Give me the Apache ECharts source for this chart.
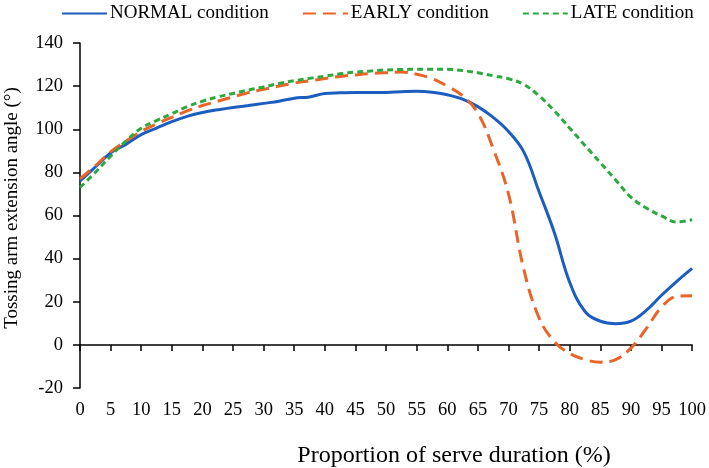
<!DOCTYPE html>
<html>
<head>
<meta charset="utf-8">
<title>Tossing arm extension angle</title>
<script src="https://cdn.jsdelivr.net/npm/echarts@6/dist/echarts.min.js"></script>
<style>
  html, body { margin: 0; padding: 0; background: #fff; }
  #chart { width: 709px; height: 468px; }
</style>
</head>
<body>
<div id="chart"></div>
<script>
// 横轴：发球时长比例 (%)
const progress = [0, 2.5, 5, 7.5, 10, 12.5, 15, 17.5, 20, 22.5, 25, 27.5, 30, 32.5, 35, 37.5, 40,
  42.5, 45, 47.5, 50, 52.5, 55, 57.5, 60, 62.5, 65, 67.5, 70, 72.5, 75, 77.5, 80, 82.5, 85,
  87.5, 90, 92.5, 95, 97.5, 100];

const normalAngle = [76, 82.5, 89, 93, 97.5, 100.5, 103.5, 106, 107.8, 109, 110.1, 111, 112, 113,
  114.4, 115, 116.6, 116.9, 117.1, 117.1, 117.1, 117.4, 117.6, 117.2, 116, 114, 110.5, 105.5,
  99, 89.5, 71, 52, 29, 15.5, 11, 9.8, 11, 16, 23, 29.5, 35.5];

const earlyAngle = [77, 83, 89.5, 94.5, 99, 102.5, 105.5, 108.5, 111, 113, 115, 117, 118.5, 120,
  121.4, 122.5, 123.5, 124.5, 125.2, 125.8, 126.2, 126.5, 125.5, 123.5, 120, 115.5, 107.5, 91,
  70, 35, 12.5, 1.5, -4, -6.8, -8, -6.8, -1.5, 7.5, 17.5, 22.5, 22.8];

const lateAngle = [73, 80, 87.5, 94.5, 100.5, 104, 107.2, 110.5, 113, 115, 116.6, 118.2, 119.6,
  121.2, 122.5, 123.6, 124.6, 125.7, 126.5, 127, 127.5, 127.7, 127.8, 127.8, 127.8, 127.2, 126.2,
  124.8, 123.4, 120.8, 115.5, 108.5, 100.5, 92.5, 84.5, 76.5, 68.5, 63.5, 59.8, 57, 58];

const seriesNames = ['NORMAL condition', 'EARLY condition', 'LATE condition'];

const FONT = 'Liberation Serif';

function pairs(values) {
  return values.map((v, i) => [progress[i], v]);
}

const chart = echarts.init(document.getElementById('chart'), null, { renderer: 'canvas' });

const option = {
  backgroundColor: '#fff',
  animation: false,
  textStyle: { fontFamily: FONT, color: '#000' },
  legend: {
    data: seriesNames,
    left: 56,
    top: -1,
    itemWidth: 45,
    itemHeight: 14,
    itemGap: 33,
    itemStyle: { opacity: 0 }, // 图例只画线，不画圆点
    textStyle: { fontFamily: FONT, fontSize: 19, color: '#000', padding: [0, 0, 0, -2] }
  },
  grid: { left: 80, right: 16, top: 43, bottom: 80 },
  xAxis: [
    {
      // 只显示底部刻度文字
      type: 'value', min: 0, max: 100, interval: 5, position: 'bottom',
      axisLine: { show: false, onZero: false },
      axisTick: { show: false },
      splitLine: { show: false },
      axisLabel: { fontFamily: FONT, fontSize: 18.5, color: '#000', margin: 13 }
    },
    {
      // 0 位置的轴线和刻度
      type: 'value', min: 0, max: 100, interval: 5, position: 'bottom',
      axisLine: { show: true, onZero: true, lineStyle: { color: '#000', width: 1.5 } },
      axisTick: { show: true, length: 6, lineStyle: { color: '#000', width: 1.5 } },
      splitLine: { show: false },
      axisLabel: { show: false }
    }
  ],
  yAxis: {
    type: 'value', min: -20, max: 140, interval: 20,
    axisLine: { show: true, lineStyle: { color: '#000', width: 1.5 } },
    axisTick: { show: true, length: 7, lineStyle: { color: '#000', width: 1.5 } },
    splitLine: { show: false },
    axisLabel: { fontFamily: FONT, fontSize: 18.5, color: '#000', margin: 17 }
  },
  graphic: [
    {
      type: 'text', x: 454, y: 456,
      style: {
        text: 'Proportion of serve duration (%)', font: '24px "Liberation Serif"',
        fill: '#000', textAlign: 'center', textVerticalAlign: 'middle'
      }
    },
    {
      type: 'text', x: 12, y: 208, rotation: Math.PI / 2,
      style: {
        text: 'Tossing arm extension angle (°)', font: '19px "Liberation Serif"',
        fill: '#000', textAlign: 'center', textVerticalAlign: 'middle'
      }
    }
  ],
  series: [
    {
      name: seriesNames[0], type: 'line', xAxisIndex: 0, smooth: 0.4, symbol: 'none',
      data: pairs(normalAngle),
      itemStyle: { color: '#1B5EBF' },
      lineStyle: { color: '#1B5EBF', width: 3 }
    },
    {
      name: seriesNames[1], type: 'line', xAxisIndex: 0, smooth: 0.4, symbol: 'none',
      data: pairs(earlyAngle),
      itemStyle: { color: '#EB6427' },
      lineStyle: { color: '#EB6427', width: 3, type: [13, 7] }
    },
    {
      name: seriesNames[2], type: 'line', xAxisIndex: 0, smooth: 0.4, symbol: 'none',
      data: pairs(lateAngle),
      itemStyle: { color: '#2CA83F' },
      lineStyle: { color: '#2CA83F', width: 3, type: [6, 4] }
    }
  ]
};

chart.setOption(option);
</script>
</body>
</html>
